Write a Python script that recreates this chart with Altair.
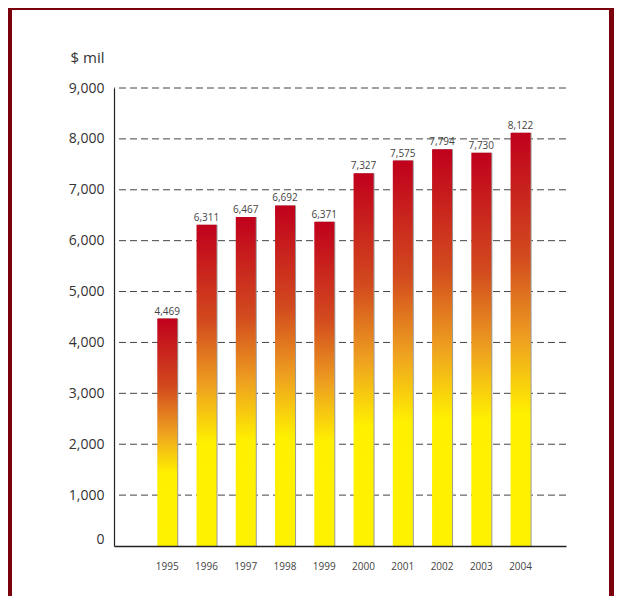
import altair as alt
import pandas as pd

years = ["1995", "1996", "1997", "1998", "1999", "2000", "2001", "2002", "2003", "2004"]
values = [4469, 6311, 6467, 6692, 6371, 7327, 7575, 7794, 7730, 8122]
labels = ["4,469", "6,311", "6,467", "6,692", "6,371", "7,327", "7,575", "7,794", "7,730", "8,122"]
grid_values = [1000, 2000, 3000, 4000, 5000, 6000, 7000, 8000, 9000]

df = pd.DataFrame({"year": years, "value": values, "label": labels})
gdf = pd.DataFrame({"value": grid_values})
panel = pd.DataFrame({"p": [0]})

FONT = "Open Sans"
FRAME = "#7a000c"

xscale = alt.Scale(domain=years, paddingInner=0.486, paddingOuter=1, align=0.55)
yscale = alt.Scale(domain=[0, 9000])

gradient = alt.Gradient(
    gradient="linear",
    x1=0, y1=0, x2=0, y2=1,
    stops=[
        alt.GradientStop(color="#c0001c", offset=0),
        alt.GradientStop(color="#d24a1e", offset=0.3),
        alt.GradientStop(color="#eea020", offset=0.5),
        alt.GradientStop(color="#fff000", offset=0.68),
        alt.GradientStop(color="#fff200", offset=1),
    ],
)

# frame strips (decoration)
frame_left = alt.Chart(panel).mark_rect(color=FRAME, clip=False).encode(
    x=alt.value(-110), x2=alt.value(-102), y=alt.value(-90), y2=alt.value(620)
)
frame_top = alt.Chart(panel).mark_rect(color=FRAME, clip=False).encode(
    x=alt.value(-110), x2=alt.value(510), y=alt.value(-90), y2=alt.value(-78)
)
frame_right = alt.Chart(panel).mark_rect(color=FRAME, clip=False).encode(
    x=alt.value(495), x2=alt.value(510), y=alt.value(-90), y2=alt.value(620)
)

x_enc = alt.X(
    "year:N", scale=xscale, sort=years,
    axis=alt.Axis(
        title=None, labelAngle=0, ticks=False, domain=True, domainColor="#222",
        domainWidth=1.6, labelFont=FONT, labelFontSize=10, labelColor="#444",
        labelPadding=15, grid=False, zindex=1,
    ),
)

y_enc = alt.Y(
    "value:Q", scale=yscale,
    axis=alt.Axis(
        title="$ mil", titleAngle=0, titleAlign="right", titleBaseline="alphabetic",
        titleX=-10, titleY=-26, titleFont=FONT, titleFontSize=15, titleFontWeight="normal",
        titleColor="#333",
        values=list(range(0, 9001, 1000)), format=",d", ticks=False,
        domain=True, domainColor="#222", domainWidth=1.2,
        labelFont=FONT, labelFontSize=14, labelColor="#333", labelPadding=10,
        labelBaseline=alt.expr("datum.value == 0 ? 'bottom' : 'middle'"),
        grid=False, zindex=1,
    ),
)

grid = alt.Chart(gdf).mark_rule(color="#444", strokeDash=[7, 4], strokeWidth=1).encode(
    y=alt.Y("value:Q", scale=yscale)
)

shadow = alt.Chart(df).mark_bar(color="#9a9a9a", xOffset=1, size=20).encode(
    x=x_enc, y=y_enc
)

bars = alt.Chart(df).mark_bar(color=gradient, size=20).encode(
    x=x_enc, y=y_enc
)

text = alt.Chart(df).mark_text(
    font=FONT, fontSize=10, color="#444", baseline="bottom", dy=-2
).encode(x=x_enc, y=y_enc, text="label:N")

chart = alt.layer(frame_left, frame_top, frame_right, grid, shadow, bars, text).properties(
    width=452, height=458,
    autosize=alt.AutoSizeParams(type="none"),
    padding={"left": 106, "top": 80, "right": 48, "bottom": 50},
    background="white",
).configure_view(stroke=None)

chart.save("out.html", embed_options={"renderer": "svg", "actions": False})
